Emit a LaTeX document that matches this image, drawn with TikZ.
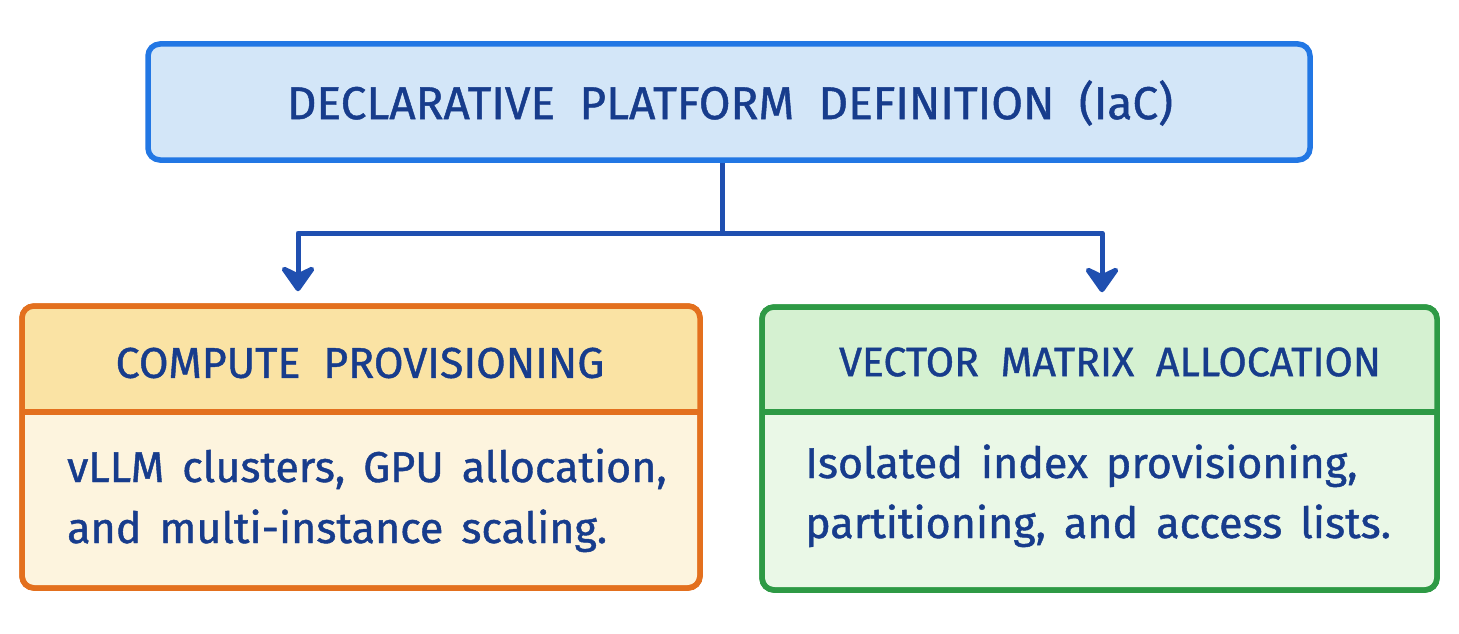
\documentclass[tikz,border=0pt]{standalone}
\usepackage{fontspec}
\setmainfont{Fira Sans}[FakeBold=1]
\usetikzlibrary{arrows.meta,calc}
\definecolor{ink}{HTML}{173C8C}
\definecolor{topstroke}{HTML}{2277E4}
\definecolor{topfill}{HTML}{D3E6F8}
\definecolor{conncol}{HTML}{1F4FB0}
\definecolor{orstroke}{HTML}{E3701E}
\definecolor{orhead}{HTML}{FAE3A4}
\definecolor{orbody}{HTML}{FDF4DE}
\definecolor{grstroke}{HTML}{2E9A45}
\definecolor{grhead}{HTML}{D5F1D1}
\definecolor{grbody}{HTML}{EAF8E7}
\newcommand{\bodyfont}{\fontsize{43}{50}\selectfont\spaceskip=0.42em\relax}
\tikzset{
  boxline/.style={line width=5.5pt, rounded corners=12pt},
  conn/.style={draw=conncol, line width=5pt, line join=round},
  tip/.style={-{Stealth[length=30pt,width=42pt,inset=10pt,round]}},
  titletext/.style={text=ink, font=\fontsize{46}{52}\selectfont},
  headtext/.style={text=ink, font=\fontsize{43}{50}\selectfont},
  bodytext/.style={text=ink, font=\bodyfont, anchor=base west, inner sep=0pt},
}
\begin{document}
\begin{tikzpicture}[x=1pt,y=-1pt]
\useasboundingbox (0,0) rectangle (1459,634);
\fill[white] (0,0) rectangle (1459,634);
% top box
\node[boxline, draw=topstroke, fill=topfill, minimum width=1162pt, minimum height=116pt, inner sep=0pt] (top) at (729,102) {};
\node[titletext] (toptxt) at (730,103) {DECLARATIVE\ \ PLATFORM\ \ DEFINITION\ \ (IaC)};
% left box
\node[boxline, draw=orstroke, fill=orbody, minimum width=678pt, minimum height=282pt, inner sep=0pt] (left) at (361,447) {};
\begin{scope}
  \clip[rounded corners=12pt] (22,306) rectangle (700,588);
  \fill[orhead] (22,306) rectangle (700,412);
\end{scope}
\draw[boxline, draw=orstroke] (22,306) rectangle (700,588);
\draw[draw=orstroke, line width=5.5pt] (22,412) -- (700,412);
\node[headtext] (lefthead) at (360,363) {COMPUTE\ \ PROVISIONING};
\node[bodytext] (leftbody1) at (67,482) {vLLM clusters, GPU allocation,};
\node[bodytext] (leftbody2) at (67,543) {and multi-instance scaling.};
% right box
\node[boxline, draw=grstroke, fill=grbody, minimum width=675pt, minimum height=283pt, inner sep=0pt] (right) at (1099.5,448.5) {};
\begin{scope}
  \clip[rounded corners=12pt] (762,307) rectangle (1437,590);
  \fill[grhead] (762,307) rectangle (1437,412);
\end{scope}
\draw[boxline, draw=grstroke] (762,307) rectangle (1437,590);
\draw[draw=grstroke, line width=5.5pt] (762,412) -- (1437,412);
\node[headtext, font=\fontsize{41}{48}\selectfont] (righthead) at (1110,362) {VECTOR\ \ MATRIX\ \ ALLOCATION};
\node[bodytext] (rightbody1) at (805,478) {Isolated index provisioning,};
\node[bodytext] (rightbody2) at (805,538) {partitioning, and access lists.};
% connectors
\coordinate (j) at (722,233);
\coordinate (la) at (298,233);
\coordinate (ra) at (1102,233);
\draw[conn] (top.south -| j) -- (j);
\draw[conn, tip, shorten >=12pt] (j) -- (la) -- (la |- left.north);
\draw[conn, tip, shorten >=12pt] (j) -- (ra) -- (ra |- right.north);
\end{tikzpicture}
\end{document}
